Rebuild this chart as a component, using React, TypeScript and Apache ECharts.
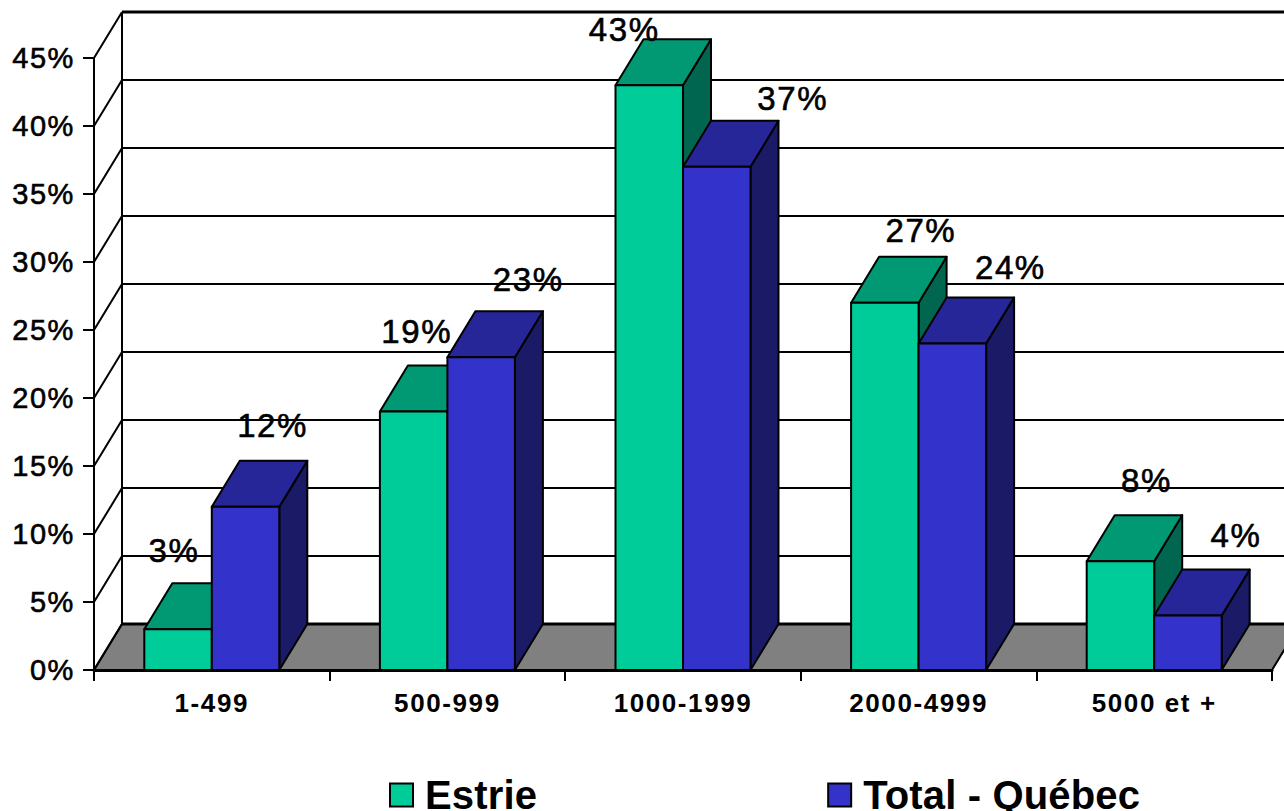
import React, { useEffect, useRef } from "react";
import * as echarts from "echarts";

const categories = ["1-499", "500-999", "1000-1999", "2000-4999", "5000 et +"];
const estrie = [3, 19, 43, 27, 8];
const totalQuebec = [12, 23, 37, 24, 4];
const wallTicks = [0, 5, 10, 15, 20, 25, 30, 35, 40, 45];

// Hand-placed data label offsets (dx, dy from the top-centre of the bar's front face)
const estrieLabelNudge = [[-4, -79], [3, -80], [-25, -56], [36, -72], [26, -81]];
const quebecLabelNudge = [[27, -81], [47, -78], [76, -68], [58, -76], [48, -80]];

const DEPTH_X = 28;
const DEPTH_Y = -46;
const BAR_RATIO = 0.2865;
const FONT = '"Liberation Sans", Arial, sans-serif';

const face = (points: number[][], fill: string, z2 = 0) => ({
  type: "polygon",
  z2,
  shape: { points },
  style: { fill, stroke: "#000", lineWidth: 2, lineJoin: "round" },
});

function barRenderer(side: -1 | 1, colors: string[], nudges: number[][]) {
  return (params: any, api: any) => {
    const i = api.value(0);
    const v = api.value(1);
    const band = api.size([1, 0])[0];
    const w = band * BAR_RATIO;
    const [c, top] = api.coord([i, v]);
    const [, base] = api.coord([i, 0]);
    const x0 = side < 0 ? c - w : c;
    const x1 = x0 + w;
    const n = nudges[params.dataIndex];
    return {
      type: "group",
      children: [
        face([[x1, base], [x1 + DEPTH_X, base + DEPTH_Y], [x1 + DEPTH_X, top + DEPTH_Y], [x1, top]], colors[2]),
        face([[x0, top], [x1, top], [x1 + DEPTH_X, top + DEPTH_Y], [x0 + DEPTH_X, top + DEPTH_Y]], colors[1]),
        face([[x0, base], [x1, base], [x1, top], [x0, top]], colors[0]),
        {
          type: "text",
          z2: 10,
          x: (x0 + x1) / 2 + n[0],
          y: top + n[1],
          style: {
            text: `${v}%`,
            fill: "#000",
            stroke: "#000",
            lineWidth: 0.6,
            font: `33px ${FONT}`,
            align: "center",
            verticalAlign: "middle",
          },
        },
      ],
    };
  };
}

function wallRenderer(params: any, api: any) {
  const v = api.value(1);
  const g = params.coordSys;
  const [, y] = api.coord([0, v]);
  const xl = g.x;
  const xr = g.x + g.width;
  const children: any[] = [];
  if (v === 0) {
    children.push({
      type: "polygon",
      shape: { points: [[xl, y], [xl + DEPTH_X, y + DEPTH_Y], [xr + DEPTH_X, y + DEPTH_Y], [xr, y]] },
      style: { fill: "#808080", stroke: "#000", lineWidth: 2 },
    });
    children.push({
      type: "line",
      shape: { x1: xl + DEPTH_X, y1: g.y + DEPTH_Y, x2: xl + DEPTH_X, y2: y + DEPTH_Y },
      style: { stroke: "#000", lineWidth: 2 },
    });
  }
  children.push({
    type: "line",
    shape: { x1: xl, y1: y, x2: xl + DEPTH_X, y2: y + DEPTH_Y },
    style: { stroke: "#000", lineWidth: 2 },
  });
  children.push({
    type: "line",
    shape: { x1: xl + DEPTH_X, y1: y + DEPTH_Y, x2: xr + DEPTH_X, y2: y + DEPTH_Y },
    style: { stroke: "#000", lineWidth: v === 0 || v === 45 ? 3 : 2 },
  });
  return { type: "group", children };
}

export default function App() {
  const ref = useRef<HTMLDivElement>(null);
  useEffect(() => {
    document.body.style.margin = "0";
    const chart = echarts.init(ref.current!, undefined, { renderer: "svg" });
    chart.setOption({
      animation: false,
      backgroundColor: "#fff",
      grid: { left: 94, right: 12, top: 58, bottom: 141, containLabel: false },
      xAxis: {
        type: "category",
        data: categories,
        axisLine: { show: true, lineStyle: { color: "#000", width: 3 } },
        axisTick: { show: true, length: 11, alignWithLabel: false, lineStyle: { color: "#000", width: 2 } },
        axisLabel: { color: "#000", fontFamily: FONT, fontWeight: "bold", fontSize: 26, margin: 20 },
        splitLine: { show: false },
      },
      yAxis: {
        type: "value",
        min: 0,
        max: 45,
        interval: 5,
        axisLine: { show: true, lineStyle: { color: "#000", width: 2 } },
        axisTick: { show: true, length: 11, lineStyle: { color: "#000", width: 2 } },
        axisLabel: {
          color: "#000",
          fontFamily: FONT,
          fontSize: 29,
          margin: 19,
          formatter: "{value}%",
          textBorderColor: "#000",
          textBorderWidth: 0.6,
        },
        splitLine: { show: false },
      },
      legend: {
        left: 384,
        top: 770,
        padding: 5,
        icon: "rect",
        itemWidth: 23,
        itemHeight: 23,
        itemGap: 291,
        data: [
          { name: "Estrie", itemStyle: { color: "#00CC99", borderColor: "#000", borderWidth: 2 } },
          { name: "Total - Québec", itemStyle: { color: "#3333CC", borderColor: "#000", borderWidth: 2 } },
        ],
        textStyle: {
          color: "#000",
          fontFamily: FONT,
          fontWeight: "bold",
          fontSize: 40,
          lineHeight: 32,
          padding: [0, 0, 0, 7],
        },
      },
      series: [
        {
          type: "custom",
          name: "walls",
          silent: true,
          z: 1,
          renderItem: wallRenderer,
          encode: { x: 0, y: 1 },
          data: wallTicks.map((t) => [0, t]),
        },
        {
          type: "custom",
          name: "Estrie",
          z: 2,
          itemStyle: { color: "#00CC99" },
          renderItem: barRenderer(-1, ["#00CC99", "#009973", "#006650"], estrieLabelNudge),
          encode: { x: 0, y: 1 },
          data: estrie.map((v, i) => [i, v]),
        },
        {
          type: "custom",
          name: "Total - Québec",
          z: 3,
          itemStyle: { color: "#3333CC" },
          renderItem: barRenderer(1, ["#3333CC", "#262699", "#1A1A66"], quebecLabelNudge),
          encode: { x: 0, y: 1 },
          data: totalQuebec.map((v, i) => [i, v]),
        },
      ],
    });
    return () => chart.dispose();
  }, []);
  return (
    <>
      <style>{`
        svg text { letter-spacing: 1.6px; }
        svg text[style*="40px"] { letter-spacing: 0.15px; }
      `}</style>
      <div ref={ref} style={{ width: 1284, height: 811 }} />
    </>
  );
}
